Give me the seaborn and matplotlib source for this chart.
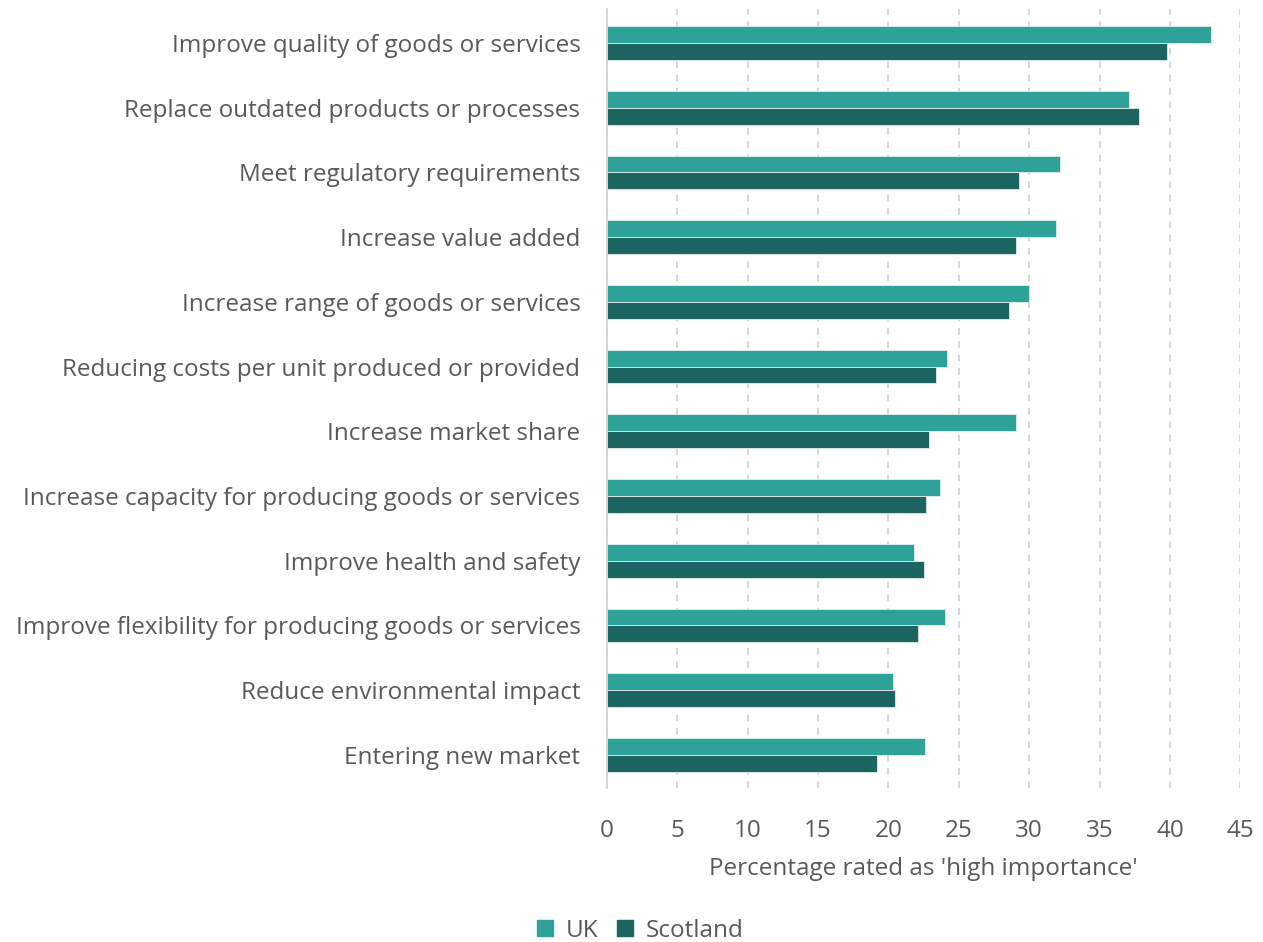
import matplotlib
matplotlib.use("Agg")
import matplotlib.pyplot as plt
import seaborn as sns
import pandas as pd

categories = [
    "Improve quality of goods or services",
    "Replace outdated products or processes",
    "Meet regulatory requirements",
    "Increase value added",
    "Increase range of goods or services",
    "Reducing costs per unit produced or provided",
    "Increase market share",
    "Increase capacity for producing goods or services",
    "Improve health and safety",
    "Improve flexibility for producing goods or services",
    "Reduce environmental impact",
    "Entering new market",
]
uk = [42.9, 37.1, 32.2, 31.9, 30.0, 24.2, 29.1, 23.7, 21.8, 24.0, 20.3, 22.6]
scotland = [39.8, 37.8, 29.3, 29.1, 28.6, 23.4, 22.9, 22.7, 22.5, 22.1, 20.5, 19.2]
series = ["UK", "Scotland"]
colors = ["#2ea198", "#1c6560"]
x_ticks = [0, 5, 10, 15, 20, 25, 30, 35, 40, 45]

df = pd.DataFrame({
    "category": categories * 2,
    "value": uk + scotland,
    "series": [series[0]] * len(uk) + [series[1]] * len(scotland),
})

sns.set_theme(style="white")
plt.rcParams["font.family"] = ["Open Sans", "DejaVu Sans"]
text_color = "#595959"
fs = 17.5

fig = plt.figure(figsize=(12.63, 9.42), dpi=100)
ax = fig.add_axes([0.4805, 0.163, 0.5015, 0.827])

sns.barplot(
    data=df, x="value", y="category", hue="series",
    order=categories, hue_order=series, palette=colors, saturation=1,
    orient="h", width=0.52, gap=0, ax=ax, legend=False,
    edgecolor="#dff0ee", linewidth=0.6,
)

ax.set_xlim(0, 45)
ax.set_xticks(x_ticks)
ax.set_xticklabels([str(t) for t in x_ticks])
ax.set_ylim(len(categories) - 0.5 + 0.02, -0.5 - 0.02)
ax.grid(axis="x", color="#d0d0d0", linestyle=(0, (4, 4)), linewidth=1.2)
ax.grid(axis="y", visible=False)
ax.set_axisbelow(True)
for s in ["top", "right", "bottom"]:
    ax.spines[s].set_visible(False)
ax.spines["left"].set_color("#d0d0d0")
ax.spines["left"].set_linewidth(1.2)

ax.tick_params(axis="x", length=0, pad=22, labelsize=fs, labelcolor=text_color)
ax.tick_params(axis="y", length=0, pad=19, labelsize=fs, labelcolor=text_color)
ax.set_ylabel("")
ax.set_xlabel("Percentage rated as 'high importance'", fontsize=fs,
              color=text_color, labelpad=10)

handles = [plt.Line2D([], [], marker="s", linestyle="", markersize=11.5,
                      markerfacecolor=c, markeredgecolor=c) for c in colors]
fig.legend(handles, series, loc="center", bbox_to_anchor=(0.506, 0.012),
           ncol=2, frameon=False, fontsize=fs, labelcolor=text_color,
           handlelength=0.8, handletextpad=0.45, columnspacing=0.7,
           borderaxespad=0)

fig.savefig("out.png", dpi=100)
